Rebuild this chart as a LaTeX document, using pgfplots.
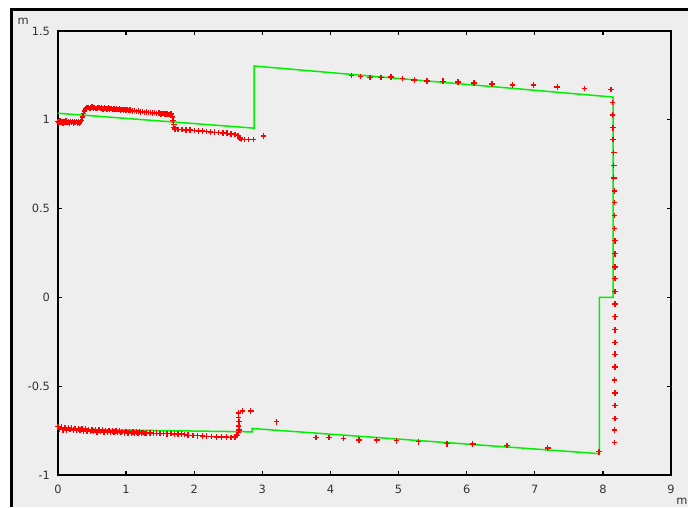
\documentclass[border=0pt]{standalone}
\usepackage{pgfplots}
\pgfplotsset{compat=1.18}
\usepackage{fontspec}
\setmainfont{DejaVu Sans}
\begin{document}
\begin{tikzpicture}

% === COLOURS ===
\definecolor{bgGray}{HTML}{EEEEEE}
\definecolor{mapGreen}{HTML}{00F000}
\definecolor{scanRed}{HTML}{FF0000}

% page: 688 x 507 px, 1 px = 0.5 pt
\useasboundingbox (0,0) rectangle (344pt,253.5pt);
\fill[white] (0,0) rectangle (344pt,253.5pt);
\fill[bgGray] (5.75pt,0) rectangle (344pt,248.6pt);
\draw[black, line width=1.5pt] (5.75pt,0) -- (5.75pt,248.6pt) -- (344pt,248.6pt);

\begin{axis}[
    at={(29pt,16pt)}, anchor=south west,
    scale only axis,
    width=306.5pt, height=222pt,
    xmin=0, xmax=9, ymin=-1, ymax=1.5,
    xtick={0,1,2,3,4,5,6,7,8,9},
    xticklabels={0,1,2,3,4,5,6,7,8,9},
    ytick={-1,-0.5,0,0.5,1,1.5},
    yticklabels={-1,-0.5,0,0.5,1,1.5},
    tick label style={font=\fontsize{5.7}{6}\selectfont, text=black!80},
    xticklabel style={yshift=-1.5pt},
    yticklabel style={xshift=-0.5pt},
    tick align=inside,
    major tick length=2pt,
    axis line style={line width=0.7pt, black},
    tick style={line width=0.7pt, black},
    clip=false,
]

% map model (green polyline)
\addplot[mapGreen, line width=0.75pt] coordinates {
    (0,1.037) (2.88,0.953) (2.88,1.303) (8.15,1.128) (8.15,0.0) (7.95,0.0)
    (7.95,-0.880) (2.85,-0.738) (2.85,-0.757) (0,-0.742)
};

% laser scan points (red +)
\addplot[only marks, mark=+, mark size=1.4pt, scanRed, line width=0.7pt] coordinates {
    (0.000,0.990)(0.015,0.984)(0.030,0.992)(0.045,0.986)(0.060,0.991)(0.075,0.983)
    (0.090,0.989)(0.105,0.985)(0.120,0.992)(0.135,0.984)(0.150,0.988)(0.165,0.983)
    (0.180,0.990)(0.195,0.985)(0.210,0.991)(0.225,0.983)(0.240,0.988)(0.255,0.984)
    (0.270,0.990)(0.285,0.982)(0.300,0.987)(0.315,0.983)(0.330,0.989)
    (0.345,0.995)(0.360,1.015)(0.375,1.035)(0.390,1.050)(0.405,1.060)
    (0.42,1.066)(0.44,1.070)(0.46,1.064)(0.48,1.068)(0.50,1.071)(0.52,1.065)
    (0.54,1.069)(0.56,1.063)(0.58,1.067)(0.60,1.070)(0.62,1.064)(0.64,1.066)
    (0.66,1.062)(0.68,1.067)(0.70,1.063)(0.72,1.060)(0.74,1.065)(0.76,1.061)
    (0.78,1.064)(0.80,1.059)(0.82,1.062)(0.84,1.058)(0.86,1.062)(0.88,1.057)
    (0.90,1.061)(0.92,1.056)(0.94,1.059)(0.96,1.055)(0.98,1.058)(1.00,1.054)
    (1.02,1.057)(1.04,1.053)(1.06,1.055)
    (1.09,1.050)(1.12,1.052)(1.15,1.047)(1.18,1.049)(1.21,1.044)(1.24,1.047)
    (1.27,1.042)(1.30,1.044)(1.33,1.040)(1.36,1.042)(1.39,1.038)(1.42,1.040)
    (1.45,1.036)(1.48,1.038)(1.51,1.034)(1.54,1.036)(1.57,1.032)(1.60,1.034)
    (1.63,1.030)(1.66,1.032)
    (1.68,1.015)(1.69,0.995)(1.70,0.975)(1.70,0.958)(1.72,0.948)
    (1.76,0.946)(1.82,0.945)(1.88,0.943)(1.94,0.942)(2.00,0.940)(2.06,0.938)
    (2.12,0.937)(2.18,0.935)(2.24,0.932)(2.30,0.930)(2.36,0.928)(2.42,0.926)
    (2.48,0.924)(2.54,0.921)(2.60,0.918)
    (2.64,0.910)(2.67,0.898)(2.69,0.889)(2.74,0.889)(2.80,0.889)(2.87,0.889)
    (3.02,0.908)
    % upper right wall
    (4.31,1.249)(4.44,1.243)(4.58,1.238)(4.74,1.238)(4.89,1.240)(5.06,1.232)
    (5.23,1.225)(5.42,1.219)(5.65,1.217)(5.87,1.212)(6.11,1.208)(6.37,1.202)
    (6.67,1.195)(6.98,1.195)(7.33,1.184)(7.73,1.176)(8.12,1.170)
    % right wall
    (8.14,1.097)(8.14,1.028)(8.15,0.955)(8.15,0.888)(8.16,0.816)(8.16,0.743)
    (8.16,0.672)(8.17,0.599)(8.17,0.534)(8.17,0.461)(8.17,0.388)(8.18,0.319)
    (8.18,0.246)(8.18,0.172)(8.18,0.107)(8.18,0.034)(8.18,-0.037)(8.18,-0.109)
    (8.18,-0.182)(8.18,-0.253)(8.18,-0.320)(8.18,-0.393)(8.17,-0.466)(8.18,-0.538)
    (8.18,-0.609)(8.18,-0.681)(8.17,-0.747)(8.17,-0.818)
    % lower wall
    (0.000,-0.728)(0.025,-0.742)(0.050,-0.731)(0.075,-0.745)(0.100,-0.733)
    (0.125,-0.746)(0.150,-0.735)(0.175,-0.744)(0.200,-0.737)(0.225,-0.748)
    (0.250,-0.738)(0.275,-0.750)(0.300,-0.740)(0.325,-0.748)(0.350,-0.741)
    (0.375,-0.752)(0.400,-0.742)(0.425,-0.753)(0.450,-0.744)(0.475,-0.755)
    (0.500,-0.745)(0.525,-0.752)(0.550,-0.746)(0.575,-0.757)(0.600,-0.747)
    (0.625,-0.756)(0.650,-0.748)(0.675,-0.758)(0.700,-0.749)(0.725,-0.757)
    (0.750,-0.750)(0.775,-0.760)(0.800,-0.751)(0.825,-0.759)(0.850,-0.752)
    (0.875,-0.761)(0.900,-0.753)(0.925,-0.760)(0.950,-0.754)(0.975,-0.762)
    (1.000,-0.755)(1.025,-0.763)(1.050,-0.756)(1.075,-0.762)(1.100,-0.757)
    (1.125,-0.764)(1.150,-0.758)(1.175,-0.765)(1.200,-0.759)(1.225,-0.764)
    (1.250,-0.760)(1.275,-0.766)(1.300,-0.762)
    (1.35,-0.764)(1.40,-0.766)(1.45,-0.765)(1.50,-0.767)(1.55,-0.766)(1.60,-0.768)
    (1.66,-0.767)(1.71,-0.769)(1.76,-0.768)(1.81,-0.770)(1.86,-0.771)
    (1.91,-0.776)(1.98,-0.778)(2.05,-0.779)(2.12,-0.781)(2.18,-0.782)(2.25,-0.784)
    (2.33,-0.785)(2.40,-0.786)(2.47,-0.787)(2.54,-0.788)(2.60,-0.786)
    (2.63,-0.778)(2.65,-0.762)(2.66,-0.747)(2.65,-0.723)(2.66,-0.700)(2.65,-0.676)
    (2.65,-0.652)(2.71,-0.639)(2.83,-0.639)(3.21,-0.700)
    (3.79,-0.788)(3.98,-0.788)(4.19,-0.794)(4.42,-0.802)(4.68,-0.802)(4.97,-0.807)
    (5.29,-0.813)(5.71,-0.824)(6.09,-0.826)(6.59,-0.835)(7.19,-0.848)(7.94,-0.869)
};

% unit labels
\node[font=\fontsize{5.7}{6}\selectfont, text=black!80] at (rel axis cs:-0.057,1.0225) {m};
\node[font=\fontsize{5.7}{6}\selectfont, text=black!80] at (rel axis cs:1.018,-0.0586) {m};

\end{axis}
\end{tikzpicture}
\end{document}
